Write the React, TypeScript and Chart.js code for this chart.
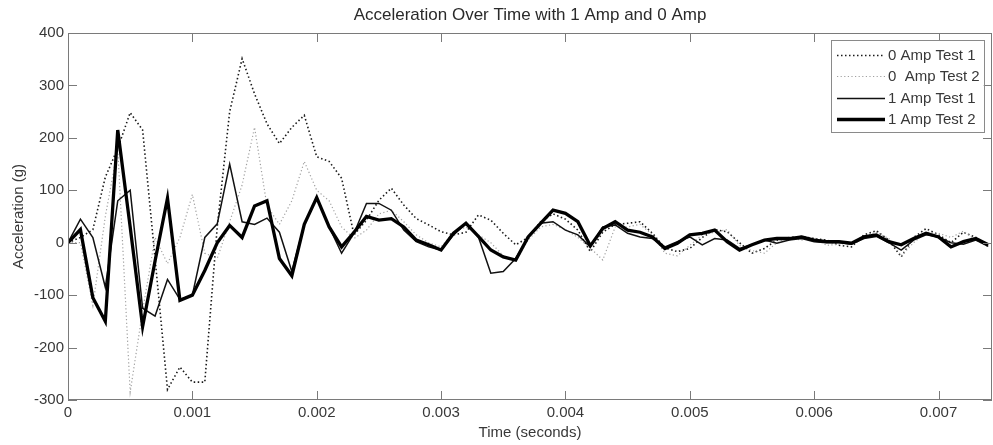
import React, { useEffect, useRef } from 'react';
import { Chart, registerables } from 'chart.js';

Chart.register(...registerables);

// ---------- data ----------
const times = [
  0, 0.0001, 0.0002, 0.0003, 0.0004, 0.0005, 0.0006, 0.0007, 0.0008, 0.0009,
  0.001, 0.0011, 0.0012, 0.0013, 0.0014, 0.0015, 0.0016, 0.0017, 0.0018, 0.0019,
  0.002, 0.0021, 0.0022, 0.0023, 0.0024, 0.0025, 0.0026, 0.0027, 0.0028, 0.0029,
  0.003, 0.0031, 0.0032, 0.0033, 0.0034, 0.0035, 0.0036, 0.0037, 0.0038, 0.0039,
  0.004, 0.0041, 0.0042, 0.0043, 0.0044, 0.0045, 0.0046, 0.0047, 0.0048, 0.0049,
  0.005, 0.0051, 0.0052, 0.0053, 0.0054, 0.0055, 0.0056, 0.0057, 0.0058, 0.0059,
  0.006, 0.0061, 0.0062, 0.0063, 0.0064, 0.0065, 0.0066, 0.0067, 0.0068, 0.0069,
  0.007, 0.0071, 0.0072, 0.0073, 0.0074,
];

const amp0Test1 = [
  0, 10, 25, 125, 180, 248, 215, -30, -280, -237,
  -266, -266, 30, 250, 351, 284, 227, 189, 220, 243,
  164, 155, 123, 15, 43, 81, 104, 72, 46, 34,
  21, 15, 20, 53, 43, 18, -4, 10, 40, 55,
  45, 24, -17, 20, 35, 37, 40, 18, -10, -17,
  -11, 10, 25, 21, 0, -20, -11, 5, 10, 12,
  8, 5, -5, -8, 15, 23, 5, -27, 10, 27,
  15, 0, 20, 10, -5,
];

const amp0Test2 = [
  0, 0, -120, 50, 180, -285, -130, 10, -40, 10,
  92, -20, -30, 40, 110, 220, 70, 35, 80, 155,
  100, 80, 30, 8, 24, 55, 62, 40, 15, 0,
  -8, 20, 30, 15, 0, -25, -35, 5, 30, 35,
  25, 10, -10, -33, 30, 30, 35, 15, -20, -25,
  -5, 15, 20, 25, -5, -15, -20, 0, 10, 5,
  10, -5, -3, 0, 12, 20, 8, -25, 0, 20,
  18, 10, 22, 5, -8,
];

const amp1Test1 = [
  0, 45, 10, -85, 80, 100, -125, -140, -70, -108,
  -100, 10, 36, 150, 40, 35, 47, 20, -55, 35,
  86, 30, -20, 18, 75, 75, 62, 24, 2, -8,
  -14, 15, 37, 11, -58, -55, -30, 10, 37, 40,
  24, 15, -8, 30, 34, 18, 11, 8, -8, 2,
  11, -4, 8, 5, -11, -4, 5, -1, 5, 8,
  2, 0, 0, -3, 8, 12, 0, -14, 5, 15,
  11, 0, -3, 5, -7,
];

const amp1Test2 = [
  0, 25, -105, -150, 215, 30, -160, -35, 85, -110,
  -100, -53, 0, 33, 10, 70, 80, -30, -63, 35,
  86, 30, -8, 20, 50, 43, 46, 30, 5, -4,
  -14, 18, 37, 12, -14, -27, -33, 11, 37, 62,
  56, 40, -6, 27, 40, 24, 20, 11, -11, -1,
  15, 18, 24, 2, -14, -4, 5, 8, 8, 11,
  5, 2, 2, -1, 11, 15, 2, -4, 8, 18,
  11, -8, 2, 8, -4,
];

const seriesLabels = ['0 Amp Test 1', '0  Amp Test 2', '1 Amp Test 1', '1 Amp Test 2'];

const xTickValues = [0, 0.001, 0.002, 0.003, 0.004, 0.005, 0.006, 0.007];
const xTickLabels = ['0', '0.001', '0.002', '0.003', '0.004', '0.005', '0.006', '0.007'];
const yTickValues = [-300, -200, -100, 0, 100, 200, 300, 400];
const yTickLabels = ['-300', '-200', '-100', '0', '100', '200', '300', '400'];

const chartTitle = 'Acceleration Over Time with 1 Amp and 0 Amp';
const xTitle = 'Time (seconds)';
const yTitle = 'Acceleration (g)';

// ---------- styling ----------
const FAMILY = '"Liberation Sans", Arial, sans-serif';
const FONT_SIZE = 15;
const TEXT_COLOR = '#383838';

const boxPlugin = {
  id: 'matlabBox',
  afterDatasetsDraw(chart: any) {
    const { ctx, chartArea: a, scales } = chart;
    ctx.save();
    // axes box
    ctx.strokeStyle = '#7a7a7a';
    ctx.lineWidth = 1;
    ctx.setLineDash([]);
    ctx.strokeRect(a.left + 0.5, a.top + 0.5, a.right - a.left - 1, a.bottom - a.top - 1);
    // inward ticks on all four sides
    const tl = 9;
    ctx.beginPath();
    for (const v of xTickValues) {
      const px = Math.round(scales.x.getPixelForValue(v)) + 0.5;
      ctx.moveTo(px, a.bottom);
      ctx.lineTo(px, a.bottom - tl);
      ctx.moveTo(px, a.top);
      ctx.lineTo(px, a.top + tl);
    }
    for (const v of yTickValues) {
      const py = Math.round(scales.y.getPixelForValue(v)) + 0.5;
      ctx.moveTo(a.left, py);
      ctx.lineTo(a.left + tl, py);
      ctx.moveTo(a.right, py);
      ctx.lineTo(a.right - tl, py);
    }
    ctx.stroke();

    // legend box
    ctx.font = `${FONT_SIZE}px ${FAMILY}`;
    const ds = chart.data.datasets;
    const tw = Math.max(...ds.map((d: any) => ctx.measureText(d.label).width));
    const padL = 6, lineLen = 48, gap = 3, padR = 4, rowH = 21.3;
    const bw = padL + lineLen + gap + tw + padR;
    const bh = 92;
    const bx = a.right - 161;
    const by = a.top + 7;
    ctx.fillStyle = '#ffffff';
    ctx.fillRect(bx, by, bw, bh);
    ctx.strokeStyle = '#8a8a8a';
    ctx.lineWidth = 1;
    ctx.strokeRect(Math.round(bx) + 0.5, Math.round(by) + 0.5, Math.round(bw), Math.round(bh));
    ds.forEach((d: any, i: number) => {
      const cy = Math.round(by + 15 + i * rowH) + 0.5;
      ctx.beginPath();
      ctx.strokeStyle = d.borderColor;
      ctx.lineWidth = d.borderWidth;
      ctx.setLineDash(d.borderDash || []);
      ctx.moveTo(bx + padL, cy);
      ctx.lineTo(bx + padL + lineLen, cy);
      ctx.stroke();
      ctx.setLineDash([]);
      ctx.fillStyle = TEXT_COLOR;
      ctx.textAlign = 'left';
      ctx.textBaseline = 'middle';
      ctx.fillText(d.label, bx + padL + lineLen + gap, cy);
    });
    ctx.restore();
  },
};

export default function App() {
  const canvasRef = useRef<HTMLCanvasElement | null>(null);

  useEffect(() => {
    if (!canvasRef.current) return;
    const font = { family: FAMILY, size: FONT_SIZE };
    const chart = new Chart(canvasRef.current, {
      type: 'line',
      data: {
        labels: times,
        datasets: [
          {
            label: seriesLabels[0],
            data: amp0Test1,
            borderColor: '#1a1a1a',
            borderWidth: 1.6,
            borderDash: [1.5, 2.5],
            order: 3,
          },
          {
            label: seriesLabels[1],
            data: amp0Test2,
            borderColor: '#a0a0a0',
            borderWidth: 1.2,
            borderDash: [1.2, 2.4],
            order: 2,
          },
          {
            label: seriesLabels[2],
            data: amp1Test1,
            borderColor: '#111111',
            borderWidth: 1.5,
            order: 1,
          },
          {
            label: seriesLabels[3],
            data: amp1Test2,
            borderColor: '#000000',
            borderWidth: 3.3,
            order: 0,
          },
        ],
      },
      options: {
        animation: false,
        responsive: false,
        devicePixelRatio: 1,
        layout: { padding: { left: 0, right: 1, top: 0, bottom: 0 } },
        elements: {
          point: { radius: 0, hoverRadius: 0 },
          line: { tension: 0, fill: false },
        },
        plugins: {
          legend: { display: false },
          tooltip: { enabled: false },
          title: {
            display: true,
            text: chartTitle,
            fullSize: false,
            color: '#2a2a2a',
            font: { family: FAMILY, size: 17, weight: 'normal' },
            padding: { top: 4.8, bottom: 7.8 },
          },
        },
        scales: {
          x: {
            type: 'linear',
            min: 0,
            max: 0.00743,
            afterBuildTicks: (s: any) => {
              s.ticks = xTickValues.map((v) => ({ value: v }));
            },
            afterFit: (s: any) => {
              s.height = 45;
            },
            ticks: {
              callback: (_v: any, i: number) => xTickLabels[i],
              font,
              color: TEXT_COLOR,
              padding: 4,
              maxRotation: 0,
              autoSkip: false,
            },
            grid: { display: false, drawTicks: false },
            border: { display: false },
            title: {
              display: true,
              text: xTitle,
              font,
              color: TEXT_COLOR,
              padding: { top: 0, bottom: 3 },
            },
          },
          y: {
            type: 'linear',
            min: -300,
            max: 400,
            afterBuildTicks: (s: any) => {
              s.ticks = yTickValues.map((v) => ({ value: v }));
            },
            afterFit: (s: any) => {
              s.width = 68;
            },
            ticks: {
              callback: (_v: any, i: number) => yTickLabels[i],
              font,
              color: TEXT_COLOR,
              padding: 4,
              autoSkip: false,
            },
            grid: { display: false, drawTicks: false },
            border: { display: false },
            title: {
              display: true,
              text: yTitle,
              font,
              color: TEXT_COLOR,
              padding: { top: 9.5, bottom: 0 },
            },
          },
        },
      },
      plugins: [boxPlugin],
    } as any);
    return () => chart.destroy();
  }, []);

  return (
    <div style={{ position: 'fixed', left: 0, top: 0, width: 993, height: 445, background: '#fff' }}>
      <canvas ref={canvasRef} width={993} height={445} style={{ display: 'block' }} />
    </div>
  );
}
